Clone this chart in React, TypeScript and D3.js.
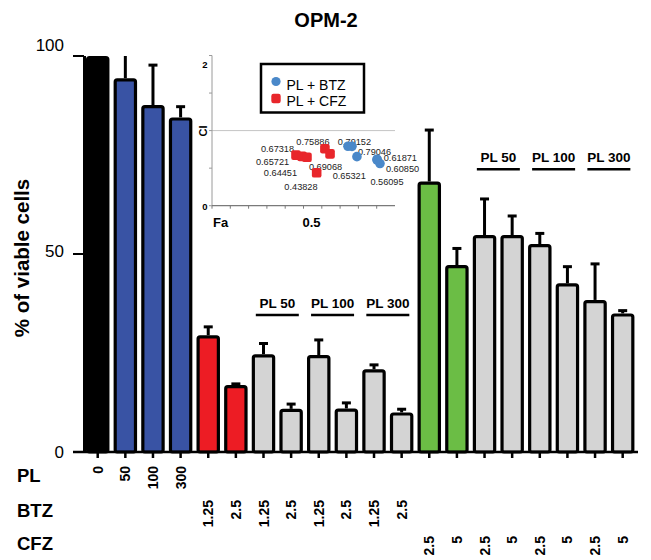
import React from "react";
import * as d3 from "d3";

// ---------- data ----------
const plLabels = ["0", "50", "100", "300", "", "", "", "", "", "", "", "", "", "", "", "", "", "", "", ""];
const btzLabels = ["", "", "", "", "1.25", "2.5", "1.25", "2.5", "1.25", "2.5", "1.25", "2.5", "", "", "", "", "", "", "", ""];
const cfzLabels = ["", "", "", "", "", "", "", "", "", "", "", "", "2.5", "5", "2.5", "5", "2.5", "5", "2.5", "5"];
const viability = [100, 94.4, 87.6, 84.5, 29.5, 16.9, 24.7, 10.9, 24.5, 11.0, 20.9, 10.0, 68.3, 47.2, 54.8, 54.8, 52.5, 42.6, 38.4, 35.0];
const errors = [0, 6, 10.1, 2.7, 2.1, 0.3, 2.7, 1.2, 3.8, 1.4, 1.1, 0.8, 13, 4.2, 9.1, 4.8, 2.7, 4.2, 9.1, 0.7];
const barKinds = ["ctrl", "pl", "pl", "pl", "btz", "btz", "combo", "combo", "combo", "combo", "combo", "combo", "cfz", "cfz", "combo", "combo", "combo", "combo", "combo", "combo"];
const groupNames = ["PL 50", "PL 100", "PL 300", "PL 50", "PL 100", "PL 300"];
const groupBars = [[6, 7], [8, 9], [10, 11], [14, 15], [16, 17], [18, 19]];
const groupLevels = [34.6, 34.6, 34.6, 71.4, 71.4, 71.4];
const rowNames = ["PL", "BTZ", "CFZ"];
const yTicks = [0, 50, 100];

// inset: combination index
const btzFa = [0.743, 0.765, 0.792, 0.902, 0.902, 0.918];
const btzCI = [0.79152, 0.79046, 0.65321, 0.61871, 0.6085, 0.56095];
const cfzFa = [0.459, 0.492, 0.519, 0.617, 0.645, 0.572];
const cfzCI = [0.67318, 0.65721, 0.64451, 0.75886, 0.69068, 0.43828];
const insetYTicks = [0, 0.5, 1, 1.5, 2];
const insetYLabels = [0, 2];
const insetXTicks = d3.range(0, 10).map((k) => k / 10);
const legendNames = ["PL + BTZ", "PL + CFZ"];

// label offsets (layout only)
const btzLabelOff = [[6.5, -4.6], [22.5, 5.3], [-7.7, 19.3], [23.3, -1], [25.5, 8.6], [7, 18.1]];
const cfzLabelOff = [[-18.5, -6], [-29.5, 5.3], [-26.5, 15.3], [-12, -7], [-4.5, 13.4], [-15.7, 13.9]];

const colors: Record<string, string> = {
  ctrl: "#000000",
  pl: "#3953a4",
  btz: "#ed1c24",
  cfz: "#6bbd45",
  combo: "#d4d4d4",
};
const blueDot = "#4a88c9";
const redDot = "#e8262b";

const FONT = "'Liberation Sans', Arial, Helvetica, sans-serif";

export default function App() {
  const W = 651;
  const H = 560;
  const y = d3.scaleLinear().domain([0, 100]).range([452, 56]);
  const x = d3
    .scaleBand<number>()
    .domain(d3.range(viability.length))
    .range([83.9, 636.5])
    .paddingInner(0.15)
    .paddingOuter(0.075);
  const bw = x.bandwidth();
  const sw = 3.2;
  const cx = (i: number) => (x(i) as number) + bw / 2;

  const ix = d3.scaleLinear().domain([0, 1]).range([212, 395]);
  const iy = d3.scaleLinear().domain([0, 2]).range([205.7, 55.5]);

  const rowTops = [466, 500, 536];
  const rowBase = [482, 517, 550];
  const rowLabels = [plLabels, btzLabels, cfzLabels];

  return (
    <svg
      width={W}
      height={H}
      style={{ position: "absolute", left: 0, top: 0, background: "#fff" }}
      fontFamily={FONT}
    >
      {/* title */}
      <text x={326} y={27} textAnchor="middle" fontSize={20} fontWeight="bold">
        OPM-2
      </text>

      {/* y label */}
      <text
        transform={`translate(29,258) rotate(-90)`}
        textAnchor="middle"
        fontSize={20.5}
        fontWeight="bold"
      >
        % of viable cells
      </text>

      {/* bars */}
      {viability.map((v, i) => (
        <rect
          key={"b" + i}
          x={(x(i) as number) + sw / 2}
          y={y(v) + sw / 2}
          width={bw - sw}
          height={y(0) - y(v) - sw / 2}
          fill={colors[barKinds[i]]}
          stroke="#000"
          strokeWidth={sw}
          rx={2}
        />
      ))}

      {/* error bars */}
      {viability.map((v, i) => {
        if (errors[i] <= 0) return null;
        const top = v + errors[i];
        const clipped = top > 100;
        const yt = y(Math.min(top, 100));
        return (
          <g key={"e" + i} stroke="#000" strokeWidth={3}>
            <line x1={cx(i)} x2={cx(i)} y1={y(v)} y2={yt} />
            {!clipped && <line x1={cx(i) - 4.5} x2={cx(i) + 4.5} y1={yt} y2={yt} />}
          </g>
        );
      })}

      {/* axes */}
      <line x1={84.5} x2={84.5} y1={y(0)} y2={y(100)} stroke="#000" strokeWidth={3} />
      <line x1={73} x2={638} y1={y(0)} y2={y(0)} stroke="#000" strokeWidth={2.5} />
      {yTicks.map((t) => (
        <g key={"yt" + t}>
          <line x1={73} x2={84} y1={y(t)} y2={y(t)} stroke="#000" strokeWidth={2} />
          <text
            x={64}
            y={y(t) + (t === 100 ? -11 : t === 50 ? -2.5 : 0)}
            dy="0.35em"
            textAnchor="end"
            fontSize={17}
          >
            {t}
          </text>
        </g>
      ))}
      {viability.map((_, i) => (
        <line
          key={"xt" + i}
          x1={cx(i)}
          x2={cx(i)}
          y1={y(0)}
          y2={y(0) + 6}
          stroke="#000"
          strokeWidth={2.5}
        />
      ))}

      {/* row labels */}
      {rowNames.map((r, k) => (
        <text key={r} x={17} y={rowBase[k]} fontSize={18.5} fontWeight="bold">
          {r}
        </text>
      ))}
      {rowLabels.map((labels, k) =>
        labels.map((l, i) =>
          l ? (
            <text
              key={`r${k}-${i}`}
              transform={`translate(${cx(i)},${rowTops[k]}) rotate(-90)`}
              textAnchor="end"
              dy="0.36em"
              fontSize={14}
              fontWeight="bold"
            >
              {l}
            </text>
          ) : null
        )
      )}

      {/* group labels */}
      {groupNames.map((g, k) => {
        const [a, b] = groupBars[k];
        const mid = (cx(a) + cx(b)) / 2;
        const ly = y(groupLevels[k]);
        return (
          <g key={"g" + k}>
            <line x1={mid - 21.5} x2={mid + 21.5} y1={ly} y2={ly} stroke="#000" strokeWidth={2.5} />
            <text x={mid} y={ly - 7} textAnchor="middle" fontSize={13.5} fontWeight="bold">
              {g}
            </text>
          </g>
        );
      })}

      {/* inset */}
      <g>
        <line x1={ix(0)} x2={ix(1)} y1={iy(1)} y2={iy(1)} stroke="#c4c4c4" strokeWidth={1} />
        <line x1={ix(0)} x2={ix(0)} y1={iy(0)} y2={iy(2)} stroke="#9a9a9a" strokeWidth={1} />
        <line x1={ix(0)} x2={ix(1)} y1={iy(0)} y2={iy(0)} stroke="#7a7a7a" strokeWidth={1.2} />
        {insetYTicks.map((t) => (
          <line key={"iyt" + t} x1={ix(0) - 3} x2={ix(0)} y1={iy(t)} y2={iy(t)} stroke="#9a9a9a" strokeWidth={1} />
        ))}
        {insetXTicks.map((t) => (
          <line key={"ixt" + t} x1={ix(t)} x2={ix(t)} y1={iy(0)} y2={iy(0) + 3} stroke="#7a7a7a" strokeWidth={1} />
        ))}
        {insetYLabels.map((t) => (
          <text
            key={"iyl" + t}
            x={207.5}
            y={iy(t) + (t === 2 ? 9.5 : 1)}
            dy="0.35em"
            textAnchor="end"
            fontSize={9.5}
            fontWeight="bold"
          >
            {t}
          </text>
        ))}
        <text transform={`translate(207,131) rotate(-90)`} textAnchor="middle" fontSize={11} fontWeight="bold">
          CI
        </text>
        <text x={213} y={227} fontSize={13} fontWeight="bold">
          Fa
        </text>
        <text x={ix(0.5) + 8} y={227} textAnchor="middle" fontSize={13} fontWeight="bold">
          0.5
        </text>

        {/* point labels */}
        {btzCI.map((c, i) => (
          <text
            key={"bl" + i}
            x={ix(btzFa[i]) + btzLabelOff[i][0]}
            y={iy(c) + btzLabelOff[i][1]}
            dy="0.35em"
            textAnchor="middle"
            fontSize={9.2}
            fill="#222"
          >
            {c.toFixed(5)}
          </text>
        ))}
        {cfzCI.map((c, i) => (
          <text
            key={"cl" + i}
            x={ix(cfzFa[i]) + cfzLabelOff[i][0]}
            y={iy(c) + cfzLabelOff[i][1]}
            dy="0.35em"
            textAnchor="middle"
            fontSize={9.2}
            fill="#222"
          >
            {c.toFixed(5)}
          </text>
        ))}

        {/* points */}
        {btzCI.map((c, i) => (
          <circle key={"bp" + i} cx={ix(btzFa[i])} cy={iy(c)} r={4.8} fill={blueDot} />
        ))}
        {cfzCI.map((c, i) => (
          <rect
            key={"cp" + i}
            x={ix(cfzFa[i]) - 4.8}
            y={iy(c) - 4.8}
            width={9.6}
            height={9.6}
            rx={2.2}
            fill={redDot}
          />
        ))}

        {/* legend */}
        <rect x={261} y={64} width={103} height={48.5} fill="#fff" stroke="#000" strokeWidth={2.5} />
        <circle cx={276} cy={81.5} r={4.6} fill={blueDot} />
        <rect x={271.3} y={93.8} width={9.4} height={9.4} rx={2.2} fill={redDot} />
        <text x={286.5} y={85} dy="0.35em" fontSize={14}>
          {legendNames[0]}
        </text>
        <text x={286.5} y={101.5} dy="0.35em" fontSize={14}>
          {legendNames[1]}
        </text>
      </g>
    </svg>
  );
}
